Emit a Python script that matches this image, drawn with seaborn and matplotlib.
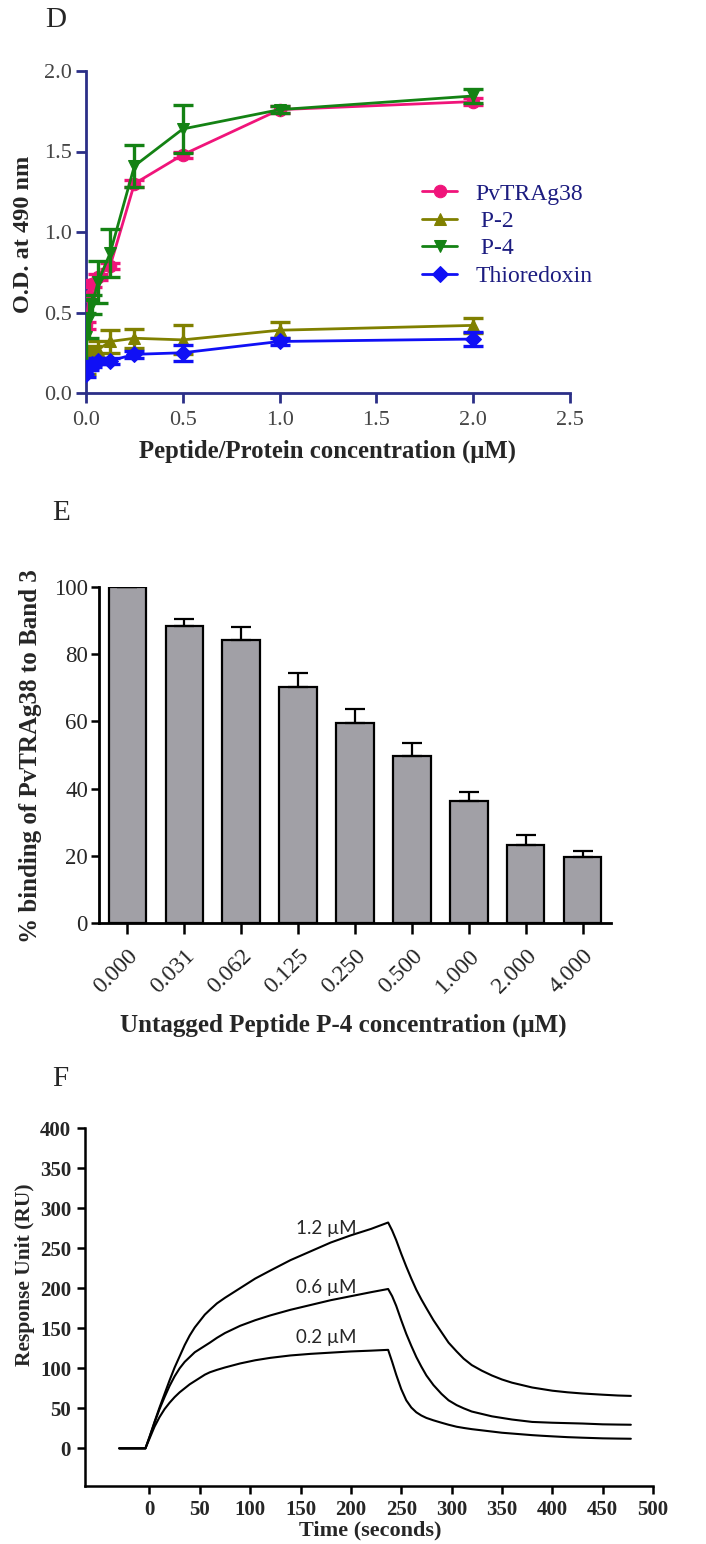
import matplotlib
matplotlib.use("Agg")
import matplotlib.pyplot as plt
import numpy as np
import pandas as pd
import seaborn as sns

# ---------------- Panel D: ELISA binding curves ----------------
conc_d = [0.0, 0.0156, 0.031, 0.0625, 0.125, 0.25, 0.5, 1.0, 2.0]
pvtrag38 = [0.42, 0.60, 0.68, 0.72, 0.79, 1.30, 1.48, 1.76, 1.81]
pvtrag38_err = [0.02, 0.02, 0.02, 0.02, 0.02, 0.02, 0.02, 0.02, 0.02]
p2 = [0.16, 0.25, 0.26, 0.27, 0.32, 0.34, 0.33, 0.39, 0.42]
p2_err = [0.04, 0.03, 0.03, 0.05, 0.07, 0.06, 0.09, 0.05, 0.045]
p4 = [0.35, 0.46, 0.55, 0.69, 0.87, 1.41, 1.64, 1.76, 1.845]
p4_err = [0.15, 0.12, 0.06, 0.13, 0.15, 0.13, 0.15, 0.02, 0.045]
thioredoxin = [0.12, 0.16, 0.18, 0.20, 0.20, 0.24, 0.25, 0.32, 0.335]
thioredoxin_err = [0.02, 0.02, 0.02, 0.02, 0.02, 0.02, 0.05, 0.02, 0.045]
d_labels = ["PvTRAg38", " P-2", " P-4", "Thioredoxin"]
d_xticks = [0.0, 0.5, 1.0, 1.5, 2.0, 2.5]
d_yticks = [0.0, 0.5, 1.0, 1.5, 2.0]

# ---------------- Panel E: competition with untagged P-4 ----------------
e_conc = ["0.000", "0.031", "0.062", "0.125", "0.250", "0.500", "1.000", "2.000", "4.000"]
e_binding = [100, 88.5, 84.2, 70.3, 59.4, 49.8, 36.3, 23.2, 19.5]
e_err = [0, 2.0, 4.0, 4.0, 4.3, 3.7, 2.8, 3.0, 2.0]
e_yticks = [0, 20, 40, 60, 80, 100]

# ---------------- Panel F: SPR sensorgrams ----------------
f_time = [-30, -4, 0, 5, 10, 15, 20, 25, 30, 35, 40, 45, 50, 55, 60, 67, 75,
          90, 105, 120, 140, 160, 180, 200, 220, 237, 241, 245, 250, 255,
          260, 265, 270, 275, 282, 290, 297, 305, 312, 320, 330, 340, 350,
          360, 370, 380, 390, 400, 415, 430, 450, 465, 478]
ru_1_2 = [0, 0, 14, 33, 51, 68, 85, 101, 115, 129, 141, 151, 159, 167, 173, 181, 188,
          200, 212, 222, 235, 246, 257, 266, 274, 282, 272, 260, 243, 227,
          212, 198, 186, 175, 160, 145, 132, 121, 112, 104, 97, 91, 86,
          82, 79, 76, 74, 72, 70, 68.5, 67, 66, 65.5]
ru_0_6 = [0, 0, 14, 32, 49, 64, 78, 90, 100, 108, 114, 120, 124, 128, 132, 138, 144,
          153, 160, 166, 173, 179, 185, 190, 195, 199, 190, 178, 160, 143,
          128, 114, 102, 91, 79, 68, 60, 54, 50, 46, 43, 40, 38,
          36, 34.5, 33, 32.5, 32, 31.5, 31, 30, 29.7, 29.5]
ru_0_2 = [0, 0, 12, 27, 39, 49, 57, 64, 70, 75, 80, 84, 88, 92, 95, 98, 101,
          106, 110, 113, 116, 118, 119.5, 121, 122, 123, 108, 92, 74, 60,
          51, 45, 41, 38, 35, 32, 29.5, 27, 25.5, 24, 22.5, 21, 19.5,
          18.5, 17.5, 16.5, 15.7, 15, 14, 13.3, 12.5, 12.2, 12]
f_conc_labels = ["1.2 µM", "0.6 µM", "0.2 µM"]
f_xticks = list(range(0, 501, 50))
f_yticks = list(range(0, 401, 50))

# ---------------- style ----------------
sns.set_theme(style="ticks")
plt.rcParams["font.family"] = ["Liberation Serif", "DejaVu Serif"]
plt.rcParams["axes.linewidth"] = 1.6

fig = plt.figure(figsize=(7.06, 15.44), dpi=100)
W, H = 706.0, 1544.0


def rect(left, right, top, bottom):
    return [left / W, 1 - bottom / H, (right - left) / W, (bottom - top) / H]


# ====================== D ======================
navy = "#2b2f87"
axd = fig.add_axes(rect(86, 570, 71, 393))
d_series = [
    (pvtrag38, pvtrag38_err, "#f0147a", "o"),
    (p2, p2_err, "#808000", "^"),
    (p4, p4_err, "#148214", "v"),
    (thioredoxin, thioredoxin_err, "#1010f5", "D"),
]
handles = []
for i, ((vals, err, col, mk), lab) in enumerate(zip(d_series, d_labels)):
    axd.errorbar(conc_d, vals, yerr=err, fmt="none", ecolor=col,
                 elinewidth=2.4, capsize=7, capthick=2.4, zorder=3 + 2 * i)
    sns.lineplot(x=conc_d, y=vals, ax=axd, color=col, marker=mk,
                 markersize=9 if mk != "D" else 8, markeredgecolor=col,
                 linewidth=2.0, label=lab, zorder=4 + 2 * i, errorbar=None)
    handles.append(axd.lines[-1])

axd.set_xlim(0, 2.5)
axd.set_ylim(0, 2.0)
axd.set_xticks(d_xticks)
axd.set_yticks(d_yticks)
axd.set_xticklabels([f"{v:.1f}" for v in d_xticks])
axd.set_yticklabels([f"{v:.1f}" for v in d_yticks])
sns.despine(ax=axd)
for s in ("left", "bottom"):
    axd.spines[s].set_color(navy)
    axd.spines[s].set_linewidth(2.0)
axd.tick_params(axis="both", direction="out", length=7, width=2.0,
                color=navy, labelcolor="#454545", labelsize=16, pad=3)
axd.tick_params(axis="x", pad=6)
axd.set_xlabel("Peptide/Protein concentration (μM)", fontsize=17.8,
               fontweight="bold")
axd.set_ylabel("O.D. at 490 nm", fontsize=17.5, fontweight="bold")
axd.xaxis.set_label_coords(0.498, -0.145)
axd.yaxis.set_label_coords(-0.108, 0.492)
axd.legend(handles, d_labels, loc="upper left",
           bbox_to_anchor=(422 / W, 1 - 183 / H), bbox_transform=fig.transFigure,
           frameon=False, fontsize=17, labelcolor="#1c1c80",
           handlelength=1.5, handletextpad=0.75, labelspacing=0.25,
           borderpad=0, borderaxespad=0)

# ====================== E ======================
axe = fig.add_axes(rect(99, 611, 587, 923))
sns.barplot(x=e_conc, y=e_binding, ax=axe, color="#a1a0a6", saturation=1,
            edgecolor="black", linewidth=1.6, width=0.66, errorbar=None)
axe.errorbar(range(len(e_conc)), e_binding,
             yerr=[np.zeros(len(e_err)), e_err], fmt="none", ecolor="black",
             elinewidth=1.6, capsize=7, capthick=1.6, zorder=1)
axe.set_xlim(-0.5, 8.5)
axe.set_ylim(0, 100)
axe.set_yticks(e_yticks)
sns.despine(ax=axe)
for s in ("left", "bottom"):
    axe.spines[s].set_linewidth(2.0)
    axe.spines[s].set_color("black")
axe.tick_params(axis="y", direction="out", length=6, width=1.8,
                color="black", labelsize=16.5, pad=2)
axe.tick_params(axis="x", direction="out", length=8, width=1.8,
                color="black", labelsize=17, pad=8)
plt.setp(axe.get_xticklabels(), rotation=45, ha="right",
         rotation_mode="anchor")
axe.set_xlabel("Untagged Peptide P-4 concentration (μM)", fontsize=18,
               fontweight="bold")
axe.set_ylabel("% binding of PvTRAg38 to Band 3", fontsize=18,
               fontweight="bold")
axe.xaxis.set_label_coords(0.478, -0.27)
axe.yaxis.set_label_coords(-0.112, 0.497)

# ====================== F ======================
axf = fig.add_axes(rect(85, 653, 1128, 1486))
df_f = pd.DataFrame({
    "time": f_time * 3,
    "ru": ru_1_2 + ru_0_6 + ru_0_2,
    "conc": sum([[lab] * len(f_time) for lab in f_conc_labels], []),
})
sns.lineplot(data=df_f, x="time", y="ru", hue="conc", ax=axf,
             palette=["black"] * 3, linewidth=1.5, legend=False,
             estimator=None, sort=False)
axf.set_xlim(-64, 500)
axf.set_ylim(-47, 400)
axf.set_xticks(f_xticks)
axf.set_yticks(f_yticks)
sns.despine(ax=axf)
for s in ("left", "bottom"):
    axf.spines[s].set_linewidth(1.8)
    axf.spines[s].set_color("black")
axf.tick_params(axis="both", direction="out", length=6, width=1.8,
                color="black", labelsize=15, pad=4)
for t in axf.get_xticklabels() + axf.get_yticklabels():
    t.set_fontweight("bold")
axf.set_xlabel("Time (seconds)", fontsize=16, fontweight="bold")
axf.set_ylabel("Response Unit (RU)", fontsize=15.5, fontweight="bold")
axf.xaxis.set_label_coords(0.502, -0.097)
axf.yaxis.set_label_coords(-0.088, 0.589)
for lab, (tx, ty) in zip(f_conc_labels, [(176, 274), (176, 201), (176, 138)]):
    axf.text(tx, ty, lab, ha="center", va="center", fontsize=13.5,
             family=["Lato", "DejaVu Sans"])

# ---------------- panel letters ----------------
for letter, (px, py) in zip("DEF", [(56, 20), (61, 513), (60, 1079)]):
    fig.text(px / W, 1 - py / H, letter, ha="center", va="center",
             fontsize=21)

fig.savefig("out.png", dpi=100)
